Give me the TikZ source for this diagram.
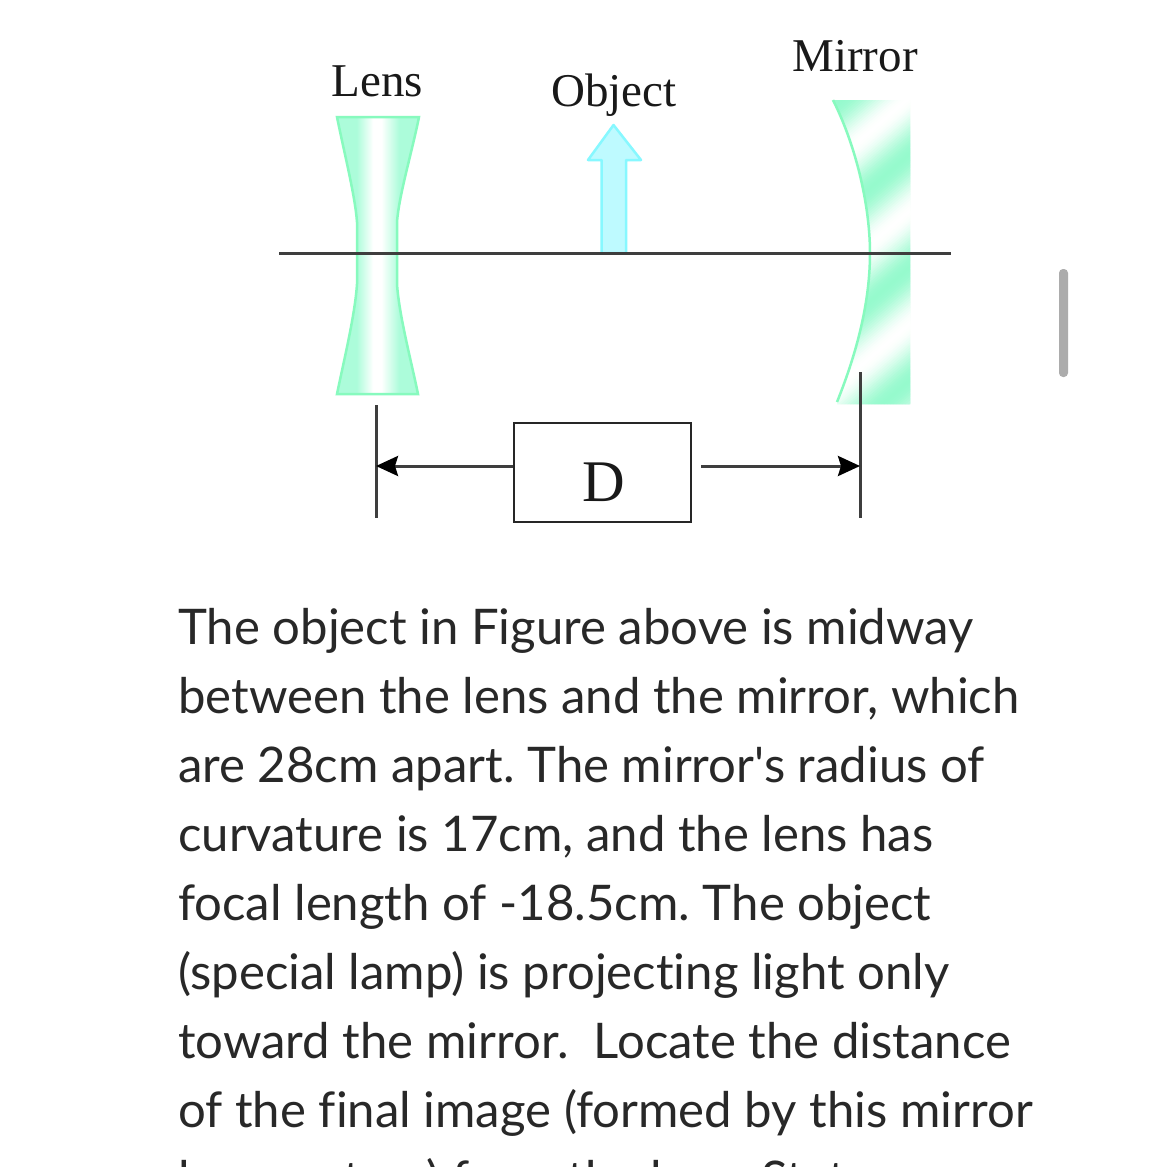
\documentclass[tikz,border=0pt]{standalone}
\usepackage{fontspec}
\setmainfont{Liberation Serif}
\newfontfamily\bodyfont[Ligatures=NoCommon]{Lato}
\usetikzlibrary{arrows.meta}
\definecolor{mintg}{RGB}{150,250,205}
\definecolor{mintl}{RGB}{172,252,218}
\definecolor{mintedge}{RGB}{135,250,190}
\definecolor{cyanf}{RGB}{190,250,255}
\definecolor{cyane}{RGB}{135,248,255}
\definecolor{axisc}{RGB}{62,62,62}
\definecolor{textc}{RGB}{40,40,40}
\definecolor{scrollc}{RGB}{172,172,172}
\pgfdeclarehorizontalshading{lensfill}{100bp}{color(0bp)=(mintl); color(37bp)=(mintl); color(47bp)=(white); color(52bp)=(white); color(63bp)=(mintl); color(100bp)=(mintl)}
\tikzset{
  label serif/.style={font=\fontsize{47}{47}\selectfont, inner sep=0pt, anchor=base, text=black!90},
  body line/.style={font=\frenchspacing\bodyfont\fontsize{49.1}{49.1}\selectfont, inner sep=0pt, anchor=base west, text=textc},
  dim line/.style={line width=3pt, draw=axisc},
  dim arrow/.style={line width=3pt, draw=axisc, -{Stealth[length=22pt,width=20pt,inset=3pt,fill=black,color=black]}},
}
\begin{document}
\begin{tikzpicture}[x=1pt,y=-1pt]
\useasboundingbox (0,0) rectangle (1167,1167);
\clip (0,0) rectangle (1167,1167);
\fill[white] (0,0) rectangle (1167,1167);

% lens
\def\lenspath{(337,117) -- (419,117) .. controls (412,152) and (399,195) .. (397,222) -- (397,284) .. controls (399,315) and (411,360) .. (418,394) -- (337,394) .. controls (344,360) and (355,315) .. (357,284) -- (357,222) .. controls (355,195) and (344,152) .. (337,117) -- cycle}
\shade[shading=lensfill] \lenspath;
\draw[mintedge,line width=2.5pt,line join=miter] \lenspath;

% mirror
\begin{scope}
\clip (833,100) .. controls (858,150) and (870,210) .. (870,253) .. controls (870,300) and (858,350) .. (837,404) -- (910,404) -- (910,100) -- cycle;
\foreach \d in {-140,-138,...,300} {
  \pgfmathsetmacro\m{int(50+50*cos(\d/86*360))}
  \pgfmathsetmacro\ax{910+0.65*\d-0.76*260}
  \pgfmathsetmacro\ay{153+0.76*\d+0.65*260}
  \pgfmathsetmacro\bx{910+0.65*\d+0.76*260}
  \pgfmathsetmacro\by{153+0.76*\d-0.65*260}
  \pgfmathsetmacro\cx{\bx+0.65*8}
  \pgfmathsetmacro\cy{\by+0.76*8}
  \pgfmathsetmacro\ex{\ax+0.65*8}
  \pgfmathsetmacro\ey{\ay+0.76*8}
  \fill[mintg!\m!white] (\ax,\ay) -- (\bx,\by) -- (\cx,\cy) -- (\ex,\ey) -- cycle;
}
\end{scope}
\draw[mintedge,line width=2.5pt] (833,100) .. controls (858,150) and (870,210) .. (870,253) .. controls (870,300) and (858,350) .. (837,402);

% object arrow
\draw[fill=cyanf,draw=cyane,line width=2.5pt,line join=round] (601.5,253) -- (601.5,160) -- (588,160) -- (613.5,125) -- (641,160) -- (626,160) -- (626,253) -- cycle;

% axis
\coordinate (axisL) at (279,253.5);
\coordinate (axisR) at (951,253.5);
\draw[axisc,line width=3.4pt] (axisL) -- (axisR);

% labels
\node[label serif] (lenslabel) at (377.5,96.5) {Lens};
\node[label serif] (objlabel) at (614,106) {Object};
\node[label serif] (mirrorlabel) at (855,71) {Mirror};

% dimension
\coordinate (barLt) at (376,405);
\coordinate (barLb) at (376,518);
\coordinate (barRt) at (860,372);
\coordinate (barRb) at (860,518);
\coordinate (tipL) at (376,466);
\coordinate (tipR) at (860,466);
\coordinate (startR) at (701,466);
\draw[dim line] (barLt) -- (barLb);
\draw[dim line] (barRt) -- (barRb);
\node[draw=black!85,line width=2.2pt,fill=white,minimum width=177pt,minimum height=99pt,inner sep=0pt,anchor=north west] (dbox) at (512.5,421.5) {};
\node[inner sep=0pt,anchor=base,font=\fontsize{59}{59}\selectfont,text=black!90] (dlabel) at (603.5,501) {D};
\draw[dim arrow] (dbox.west |- tipL) -- (tipL);
\draw[dim arrow] (startR) -- (tipR);

% scrollbar
\fill[scrollc,rounded corners=4pt] (1059,269) rectangle (1068,377);

% body text
\node[body line] (t1) at (178,644) {The object in Figure above is midway};
\node[body line] (t2) at (178,713) {between the lens and the mirror, which};
\node[body line] (t3) at (178,782) {are 28cm apart. The mirror's radius of};
\node[body line] (t4) at (178,851) {curvature is 17cm, and the lens has};
\node[body line] (t5) at (178,920) {focal length of -18.5cm. The object};
\node[body line] (t6) at (178,989) {(special lamp) is projecting light only};
\node[body line] (t7) at (178,1058) {toward the mirror.\ \ Locate the distance};
\node[body line] (t8) at (178,1127) {of the final image (formed by this mirror};
\node[body line] (t9) at (178,1196) {lens system) from the lens. State};
\end{tikzpicture}
\end{document}
